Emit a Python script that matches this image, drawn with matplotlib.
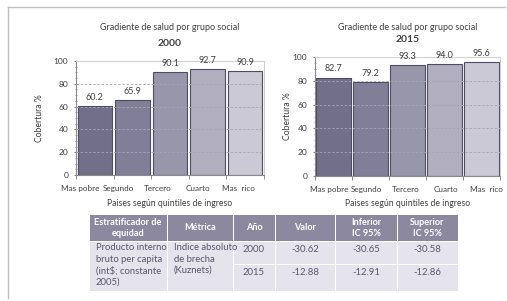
import matplotlib
matplotlib.use("Agg")
import matplotlib.pyplot as plt
from matplotlib.patches import Rectangle
from matplotlib.lines import Line2D
import numpy as np

plt.rcParams['font.family'] = ['Lato', 'DejaVu Sans']

categories = ["Mas pobre", "Segundo", "Tercero", "Cuarto", "Mas  rico"]
values_2000 = [60.2, 65.9, 90.1, 92.7, 90.9]
values_2015 = [82.7, 79.2, 93.3, 94.0, 95.6]
yticks = [0, 20, 40, 60, 80, 100]

bar_colors = ["#727089", "#817f98", "#9896ab", "#b0aebf", "#cbc9d5"]
edge_color = "#4e4c63"
text_color = "#404040"

table_header = ["Estratificador de\nequidad", "Métrica", "Año", "Valor", "Inferior\nIC 95%", "Superior\nIC 95%"]
table_strat = "Producto interno\nbruto per capita\n(int$; constante\n2005)"
table_metric = "Indice absoluto\nde brecha\n(Kuznets)"
table_years = ["2000", "2015"]
table_valor = ["-30.62", "-12.88"]
table_inf = ["-30.65", "-12.91"]
table_sup = ["-30.58", "-12.86"]

W, H = 507, 301
fig = plt.figure(figsize=(W / 100, H / 100), dpi=100)
fig.patch.set_facecolor("white")

def fx(px):
    return px / W

def fy(py):
    return 1 - py / H

# frame lines (top and left)
fig.add_artist(Line2D([fx(8), fx(505)], [fy(7), fy(7)], color="#c0c0c0", lw=1))
fig.add_artist(Line2D([fx(8), fx(8)], [fy(7), fy(298)], color="#c0c0c0", lw=1))

def draw_chart(box, values, year, title_y, year_y, ylab_x, label_shift):
    x0, x1, ytop, ybot = box
    ax = fig.add_axes([fx(x0), fy(ybot), fx(x1) - fx(x0), fy(ytop) - fy(ybot)])
    x = np.arange(len(categories))
    bars = ax.bar(x, values, width=0.92, color=bar_colors, edgecolor=edge_color, linewidth=0.8, zorder=2)
    ax.set_xlim(-0.5, len(categories) - 0.5)
    ax.set_ylim(0, 100)
    ax.set_yticks(yticks)
    ax.set_yticklabels([str(t) for t in yticks], fontsize=6, color=text_color)
    ax.set_yticks(np.arange(0, 101, 5), minor=True)
    ax.set_xticks(x + np.array(label_shift))
    ax.set_xticklabels(categories, fontsize=5.9, color=text_color)
    ax.tick_params(axis="x", length=0, pad=7)
    ax.set_xticks(np.arange(-0.5, len(categories), 1), minor=True)
    ax.tick_params(axis="x", which="minor", length=3, color="#808080", direction="out")
    ax.tick_params(axis="y", which="major", length=3, color="#808080", direction="inout", pad=4)
    ax.tick_params(axis="y", which="minor", length=2, color="#909090", direction="inout")
    for t in [20, 40, 60, 80]:
        ax.axhline(t, color="#a6a4b6", lw=0.6, ls=(0, (3, 2)), zorder=3)
    for s in ["left", "bottom"]:
        ax.spines[s].set_color("#8a8a8a")
        ax.spines[s].set_linewidth(0.8)
    for s in ["top", "right"]:
        ax.spines[s].set_color("#d0d0d0")
        ax.spines[s].set_linewidth(0.8)
    for b, v in zip(bars, values):
        ax.text(b.get_x() + b.get_width() / 2, v + 3.5, f"{v:.1f}", ha="center", va="bottom",
                fontsize=6.5, color=text_color)
    cx = (fx(x0) + fx(x1)) / 2
    fig.text(cx, fy(title_y), "Gradiente de salud por grupo social", ha="center", va="center",
             fontsize=6.5, color=text_color)
    fig.text(cx, fy(year_y), year, ha="center", va="center", fontsize=7.5, fontweight="bold",
             color=text_color)
    fig.text(fx(ylab_x), (fy(ytop) + fy(ybot)) / 2, "Cobertura %", rotation=90, ha="center",
             va="center", fontsize=6.2, color=text_color)
    fig.text(cx, fy(204), "Paises según quintiles de ingreso", ha="center", va="center",
             fontsize=6.2, color=text_color)
    return ax

draw_chart((76, 264, 61, 175), values_2000, "2000", 28, 44, 40,
           [-0.39, -0.38, -0.32, -0.26, -0.19])
draw_chart((315, 500, 57, 176), values_2015, "2015", 27, 40, 287,
           [-0.13, -0.1, -0.05, 0.05, 0.13])

# table
col_edges = [89, 167, 233, 275, 335, 397, 458]
head_top, head_bot = 215, 241
row1_top, row1_bot = 242, 264
row2_top, row2_bot = 265, 291
head_bg = "#8b889f"
body_bg = "#e5e3eb"
body_text = "#5a5670"

def rect(px0, py0, px1, py1, color):
    fig.add_artist(Rectangle((fx(px0), fy(py1)), fx(px1) - fx(px0), fy(py0) - fy(py1),
                             facecolor=color, edgecolor="none", transform=fig.transFigure))

for i, h in enumerate(table_header):
    a, b = col_edges[i], col_edges[i + 1]
    rect(a + 0.5, head_top, b - 0.5, head_bot, head_bg)
    fig.text(fx((a + b) / 2), fy((head_top + head_bot) / 2), h, ha="center", va="center",
             fontsize=6.6, fontweight="bold", color="white", linespacing=1.15)

# merged cells
for i, txt in [(0, table_strat), (1, table_metric)]:
    a, b = col_edges[i], col_edges[i + 1]
    rect(a + 0.5, row1_top, b - 0.5, row2_bot, body_bg)
    fig.text(fx(a + 7), fy(row1_top + 1.5), txt, ha="left", va="top", fontsize=6.8,
             color=body_text, linespacing=1.3)

rows = [(row1_top, row1_bot), (row2_top, row2_bot)]
for r, (t, bt) in enumerate(rows):
    for j, vals in enumerate([table_years, table_valor, table_inf, table_sup]):
        i = j + 2
        a, b = col_edges[i], col_edges[i + 1]
        rect(a + 0.5, t, b - 0.5, bt, body_bg)
        fig.text(fx((a + b) / 2), fy(t + 7.5), vals[r], ha="center", va="center", fontsize=6.8,
                 color=body_text)

fig.savefig("out.png", dpi=100)
